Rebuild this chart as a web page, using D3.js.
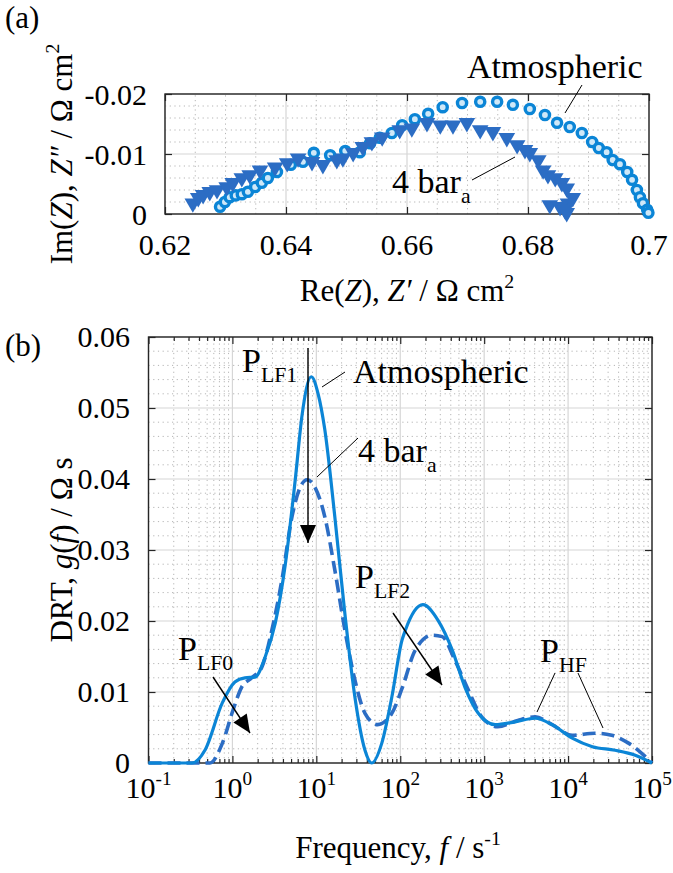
<!DOCTYPE html>
<html>
<head>
<meta charset="utf-8">
<script src="https://cdn.jsdelivr.net/npm/d3@7"></script>
<style>
  body { margin: 0; background: #fff; }
  svg, svg text { font-family: "Liberation Serif", "Times New Roman", "DejaVu Serif", serif; }
  text { fill: #000; }
</style>
</head>
<body>
<svg id="fig" width="673" height="873" font-family="Liberation Serif, Times New Roman, serif"></svg>
<script>
// ---- (a) Nyquist plot, values in Ohm cm2 ----
const atmRe = [0.6291, 0.6299, 0.6307, 0.6317, 0.6327, 0.6337, 0.6349, 0.6360, 0.6370, 0.6385,
  0.6408, 0.6428, 0.6446, 0.6473, 0.6498, 0.6522, 0.6539, 0.6555, 0.6575, 0.6592, 0.6613,
  0.6635, 0.6659, 0.6691, 0.6721, 0.6749, 0.6775, 0.6803, 0.6828, 0.6848, 0.6869, 0.6889,
  0.6906, 0.6917, 0.6930, 0.6940, 0.6952, 0.6964, 0.6972, 0.6980, 0.6985, 0.6990, 0.6997, 0.6999];
const atmIm = [-0.0012, -0.0020, -0.0028, -0.0031, -0.0033, -0.0037, -0.0045, -0.0052, -0.0060, -0.0070,
  -0.0082, -0.0087, -0.0102, -0.0098, -0.0105, -0.0103, -0.0118, -0.0127, -0.0135, -0.0148, -0.0158,
  -0.0167, -0.0178, -0.0185, -0.0187, -0.0187, -0.0182, -0.0175, -0.0165, -0.0152, -0.0145, -0.0135,
  -0.0120, -0.0110, -0.0103, -0.0090, -0.0083, -0.0070, -0.0057, -0.0040, -0.0028, -0.0018, -0.0007, -0.0002];

const barRe = [0.6246, 0.6255, 0.6263, 0.6274, 0.6286, 0.6302, 0.6312, 0.6327, 0.6340, 0.6357,
  0.6382, 0.6402, 0.6420, 0.6443, 0.6461, 0.6484, 0.6494, 0.6511, 0.6527, 0.6542, 0.6559,
  0.6588, 0.6608, 0.6633, 0.6655, 0.6676, 0.6699, 0.6721, 0.6742, 0.6765, 0.6782, 0.6795,
  0.6803, 0.6817, 0.6825, 0.6833, 0.6845, 0.6856, 0.6864, 0.6874, 0.6866, 0.6836, 0.6853, 0.6861, 0.6864];
const barIm = [-0.0018, -0.0027, -0.0032, -0.0037, -0.0040, -0.0045, -0.0052, -0.0060, -0.0065, -0.0073,
  -0.0078, -0.0085, -0.0093, -0.0087, -0.0082, -0.0090, -0.0093, -0.0102, -0.0112, -0.0120, -0.0128,
  -0.0140, -0.0143, -0.0152, -0.0148, -0.0148, -0.0152, -0.0140, -0.0137, -0.0127, -0.0115, -0.0107,
  -0.0102, -0.0090, -0.0073, -0.0065, -0.0060, -0.0052, -0.0043, -0.0027, -0.0018, -0.0015, -0.0012, -0.0007, -0.0002];

// ---- (b) DRT, g(f) in Ohm s ----
const atmFreq = [0.1, 0.33, 0.47, 0.76, 1.07, 1.41, 1.86, 2.45, 3.24, 4.27, 5.62, 6.76, 8.71, 10.5,
  12.6, 16.6, 21.9, 28.8, 38.0, 45.7, 60.3, 79.4, 105, 115, 186, 282, 417, 589, 851, 1350, 2340,
  4070, 6460, 11200, 19500, 36300, 63100, 100000];
const atmG = [0, 0, 0.0018, 0.0085, 0.0114, 0.0120, 0.0121, 0.0149, 0.0197, 0.0280, 0.0400, 0.0490,
  0.0544, 0.0520, 0.0470, 0.0347, 0.0210, 0.0093, 0.0018, 0, 0.0028, 0.0093, 0.0173, 0.0187, 0.0223,
  0.0201, 0.0159, 0.0107, 0.0070, 0.0054, 0.0058, 0.0063, 0.0054, 0.0035, 0.0023, 0.0018, 0.0011, 0];

const barFreq = [0.1, 0.54, 0.76, 1.02, 1.29, 1.70, 2.24, 2.95, 3.89, 5.13, 6.46, 7.76, 9.55, 12.6,
  16.6, 21.9, 28.8, 38.0, 53.7, 79.4, 105, 151, 240, 316, 447, 646, 933, 1450, 2510, 4070, 6460,
  11200, 20900, 33100, 52500, 100000];
const barG = [0, 0, 0.0028, 0.0075, 0.0107, 0.0120, 0.0135, 0.0187, 0.0258, 0.0347, 0.0389, 0.0399,
  0.0389, 0.0347, 0.0272, 0.0187, 0.0117, 0.0070, 0.0054, 0.0070, 0.0105, 0.0159, 0.0180, 0.0178,
  0.0145, 0.0103, 0.0065, 0.0051, 0.0060, 0.0065, 0.0054, 0.0039, 0.0042, 0.0039, 0.0028, 0];

// tick labels
const reTicks = [0.62, 0.64, 0.66, 0.68, 0.7];
const reTickLabels = ["0.62", "0.64", "0.66", "0.68", "0.7"];
const imTicks = [0, -0.01, -0.02];
const imTickLabels = ["0", "-0.01", "-0.02"];
const fExponents = [-1, 0, 1, 2, 3, 4, 5];
const gTicks = [0, 0.01, 0.02, 0.03, 0.04, 0.05, 0.06];
const gTickLabels = ["0", "0.01", "0.02", "0.03", "0.04", "0.05", "0.06"];

const cAtm = "#0b85d6";
const cBar = "#2c6dc4";
const serif = "'Liberation Serif', 'Times New Roman', 'DejaVu Serif', serif";
const tickFont = 30, titleFont = 31, noteFont = 34;

const svg = d3.select("#fig");
svg.append("rect").attr("width", 673).attr("height", 873).attr("fill", "#fff");

// text with italic / sub / sup pieces
function rich(g, x, y, parts, size) {
  const t = g.append("text").attr("x", x).attr("y", y).attr("font-size", size)
    .style("font-family", serif);
  let shift = 0;
  parts.forEach(p => {
    const target = p.sup ? -size * 0.42 : p.sub ? size * 0.3 : 0;
    const s = t.append("tspan").text(p.t).attr("dy", target - shift);
    shift = target;
    if (p.sup || p.sub) s.attr("font-size", size * 0.64);
    if (p.it) s.attr("font-style", "italic");
  });
  return t;
}

// grid, box and inside ticks
function frame(g, x, y, xMajor, yMajor, xMinor, yMinor, minorTicksX) {
  const [x0, x1] = x.range(), [y0, y1] = y.range();
  const grid = g.append("g");
  grid.selectAll(".mx").data(xMinor).join("line")
    .attr("x1", d => x(d)).attr("x2", d => x(d)).attr("y1", y0).attr("y2", y1)
    .attr("stroke", "#b5b5b5").attr("stroke-width", 1).attr("stroke-dasharray", "1.2,3.5");
  grid.selectAll(".my").data(yMinor).join("line")
    .attr("x1", x0).attr("x2", x1).attr("y1", d => y(d)).attr("y2", d => y(d))
    .attr("stroke", "#b5b5b5").attr("stroke-width", 1).attr("stroke-dasharray", "1.2,3.5");
  grid.selectAll(".gx").data(xMajor).join("line")
    .attr("x1", d => x(d)).attr("x2", d => x(d)).attr("y1", y0).attr("y2", y1)
    .attr("stroke", "#d6d6d6").attr("stroke-width", 1.2);
  grid.selectAll(".gy").data(yMajor).join("line")
    .attr("x1", x0).attr("x2", x1).attr("y1", d => y(d)).attr("y2", d => y(d))
    .attr("stroke", "#d6d6d6").attr("stroke-width", 1.2);

  const ax = (axis, tr) => g.append("g").attr("transform", tr).call(axis)
    .call(s => s.select(".domain").remove())
    .call(s => s.selectAll("line").attr("stroke", "#262626").attr("stroke-width", 1.2));
  ax(d3.axisBottom(x).tickValues(xMajor).tickSize(-7).tickFormat(""), `translate(0,${y0})`);
  ax(d3.axisTop(x).tickValues(xMajor).tickSize(-7).tickFormat(""), `translate(0,${y1})`);
  ax(d3.axisLeft(y).tickValues(yMajor).tickSize(-7).tickFormat(""), `translate(${x0},0)`);
  ax(d3.axisRight(y).tickValues(yMajor).tickSize(-7).tickFormat(""), `translate(${x1},0)`);
  if (minorTicksX) {
    ax(d3.axisBottom(x).tickValues(minorTicksX).tickSize(-4).tickFormat(""), `translate(0,${y0})`);
    ax(d3.axisTop(x).tickValues(minorTicksX).tickSize(-4).tickFormat(""), `translate(0,${y1})`);
  }
  g.append("rect").attr("x", x0).attr("y", y1).attr("width", x1 - x0).attr("height", y0 - y1)
    .attr("fill", "none").attr("stroke", "#262626").attr("stroke-width", 1.4);
}

function line(g, pts) {
  g.append("path").attr("d", d3.line()(pts)).attr("stroke", "#000")
    .attr("stroke-width", 1).attr("fill", "none");
}

function arrow(g, x1, y1, x2, y2) {
  g.append("line").attr("x1", x1).attr("y1", y1).attr("x2", x2).attr("y2", y2)
    .attr("stroke", "#000").attr("stroke-width", 1.4);
  const a = Math.atan2(y2 - y1, x2 - x1), L = 18, W = 8;
  const bx = x2 - L * Math.cos(a), by = y2 - L * Math.sin(a);
  g.append("path").attr("fill", "#000").attr("d",
    `M${x2},${y2}L${bx - W * Math.sin(a)},${by + W * Math.cos(a)}L${bx + W * Math.sin(a)},${by - W * Math.cos(a)}Z`);
}

// ================= (a) =================
const xa = d3.scaleLinear().domain([0.62, 0.7]).range([165, 649]);
const ya = d3.scaleLinear().domain([0, -0.02]).range([214, 94]);
const ga = svg.append("g");
frame(ga, xa, ya, reTicks, imTicks,
  d3.range(0.625, 0.7, 0.005).filter(v => Math.abs(v * 50 - Math.round(v * 50)) > 1e-6),
  d3.range(-0.002, -0.0201, -0.002).filter(v => Math.abs(v * 100 - Math.round(v * 100)) > 1e-6));

const atmPts = atmRe.map((r, i) => [r, atmIm[i]]);
const barPts = barRe.map((r, i) => [r, barIm[i]]);

ga.append("g").selectAll("circle").data(atmPts).join("circle")
  .attr("cx", d => xa(d[0])).attr("cy", d => ya(d[1])).attr("r", 4.6)
  .attr("fill", "#cfe8f8").attr("stroke", cAtm).attr("stroke-width", 3.4);
const tri = d3.symbol().type(d3.symbolTriangle).size(120);
ga.append("g").selectAll("path").data(barPts).join("path")
  .attr("d", tri).attr("fill", cBar)
  .attr("transform", d => `translate(${xa(d[0])},${ya(d[1])}) rotate(180)`);

// tick labels
ga.selectAll(".xl").data(reTicks).join("text")
  .attr("x", d => xa(d)).attr("y", 255).attr("text-anchor", "middle").attr("font-size", tickFont)
  .style("font-family", serif).text((d, i) => reTickLabels[i]);
ga.selectAll(".yl").data(imTicks).join("text")
  .attr("x", 147).attr("y", d => ya(d)).attr("dy", "0.35em").attr("text-anchor", "end")
  .attr("font-size", tickFont).style("font-family", serif).text((d, i) => imTickLabels[i]);

rich(ga, 407, 301, [{ t: "Re(" }, { t: "Z", it: 1 }, { t: "), " }, { t: "Z′", it: 1 }, { t: " / Ω cm" }, { t: "2", sup: 1 }], titleFont)
  .attr("text-anchor", "middle");
rich(ga, 0, 0, [{ t: "Im(" }, { t: "Z", it: 1 }, { t: "), " }, { t: "Z″", it: 1 }, { t: " / Ω cm" }, { t: "2", sup: 1 }], titleFont)
  .attr("text-anchor", "middle").attr("transform", "translate(72,154) rotate(-90)");

rich(ga, 467, 78, [{ t: "Atmospheric" }], noteFont);
line(ga, [[582, 85], [565, 113]]);
rich(ga, 392, 193, [{ t: "4 bar" }, { t: "a", sub: 1 }], noteFont);
line(ga, [[472, 180], [515, 157]]);

rich(svg, 5, 28, [{ t: "(a)" }], 31);
rich(svg, 5, 356, [{ t: "(b)" }], 31);

// ================= (b) =================
const xb = d3.scaleLog().domain([0.1, 1e5]).range([148.5, 652]);
const yb = d3.scaleLinear().domain([0, 0.06]).range([763, 337]);
const gb = svg.append("g");
const decades = fExponents.map(e => Math.pow(10, e));
const logMinor = [];
decades.slice(0, -1).forEach(d => { for (let k = 2; k <= 9; k++) logMinor.push(d * k); });
frame(gb, xb, yb, decades, gTicks, logMinor,
  d3.range(0.002, 0.06, 0.002).filter(v => Math.abs(v * 100 - Math.round(v * 100)) > 1e-6), logMinor);

const curve = d3.line().x(d => xb(d[0])).y(d => yb(d[1])).curve(d3.curveMonotoneX);
gb.append("path").attr("d", curve(barFreq.map((f, i) => [f, barG[i]])))
  .attr("fill", "none").attr("stroke", cBar).attr("stroke-width", 3.6).attr("stroke-dasharray", "13,6");
gb.append("path").attr("d", curve(atmFreq.map((f, i) => [f, atmG[i]])))
  .attr("fill", "none").attr("stroke", cAtm).attr("stroke-width", 3.2);

gb.selectAll(".yl").data(gTicks).join("text")
  .attr("x", 130).attr("y", d => yb(d)).attr("dy", "0.33em").attr("text-anchor", "end")
  .attr("font-size", tickFont).style("font-family", serif).text((d, i) => gTickLabels[i]);
fExponents.forEach(e => {
  rich(gb, xb(Math.pow(10, e)), 798, [{ t: "10" }, { t: String(e), sup: 1 }], tickFont)
    .attr("text-anchor", "middle");
});

rich(gb, 398, 858, [{ t: "Frequency, " }, { t: "f", it: 1 }, { t: " / s" }, { t: "-1", sup: 1 }], titleFont)
  .attr("text-anchor", "middle");
rich(gb, 0, 0, [{ t: "DRT, " }, { t: "g", it: 1 }, { t: "(" }, { t: "f", it: 1 }, { t: ") / Ω s" }], titleFont)
  .attr("text-anchor", "middle").attr("transform", "translate(72,550) rotate(-90)");

// annotations
rich(gb, 242, 372, [{ t: "P" }, { t: "LF1", sub: 1 }], noteFont);
arrow(gb, 308, 348, 308, 543);
rich(gb, 353, 383, [{ t: "Atmospheric" }], noteFont);
line(gb, [[345, 372], [322, 387]]);
rich(gb, 358, 462, [{ t: "4 bar" }, { t: "a", sub: 1 }], noteFont);
line(gb, [[358, 438], [317, 477]]);
rich(gb, 178, 660, [{ t: "P" }, { t: "LF0", sub: 1 }], noteFont);
arrow(gb, 213, 677, 250, 733);
rich(gb, 355, 588, [{ t: "P" }, { t: "LF2", sub: 1 }], noteFont);
arrow(gb, 393, 613, 442, 685);
rich(gb, 540, 662, [{ t: "P" }, { t: "HF", sub: 1 }], noteFont);
line(gb, [[555, 673], [537, 712]]);
line(gb, [[578, 673], [603, 728]]);
</script>
</body>
</html>
